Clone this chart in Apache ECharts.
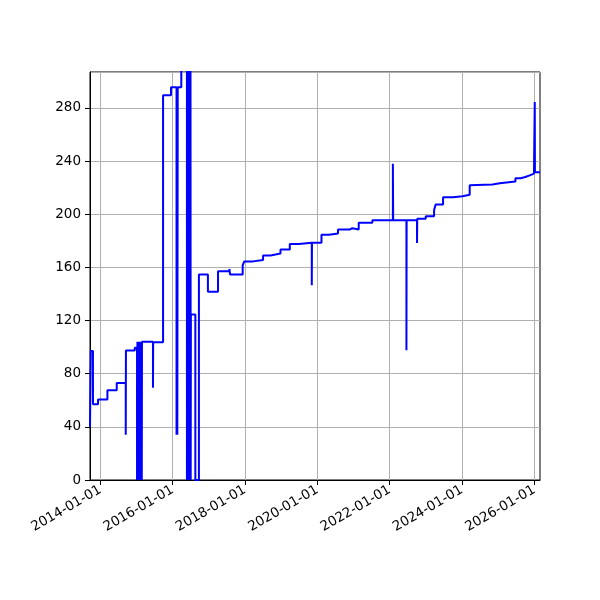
<!DOCTYPE html>
<html>
<head>
<meta charset="utf-8">
<script src="https://cdn.jsdelivr.net/npm/echarts@6/dist/echarts.min.js"></script>
<style>html,body{margin:0;padding:0;background:#fff}#c{width:600px;height:600px}</style>
</head>
<body>
<div id="c"></div>
<script>
var dates = [
 '2013-09-18','2013-09-26','2013-10-18','2013-12-08','2014-03-13','2014-06-15','2014-09-14','2014-09-16','2014-12-14',
 '2015-01-06','2015-01-10','2015-01-14','2015-01-18','2015-01-22','2015-01-26','2015-01-30','2015-02-03','2015-02-07','2015-02-11','2015-02-15','2015-02-19','2015-02-23','2015-02-25',
 '2015-06-16','2015-06-18','2015-09-26','2015-12-15',
 '2016-02-09','2016-02-13','2016-02-17','2016-02-21','2016-03-28',
 '2016-05-24','2016-05-28','2016-06-01','2016-06-05','2016-06-09','2016-06-13','2016-06-17','2016-06-21','2016-06-25','2016-06-29','2016-07-01',
 '2016-07-03','2016-08-17','2016-09-22','2016-12-22','2017-04-03','2017-07-27','2017-08-03','2017-12-08','2017-12-24',
 '2018-03-23','2018-07-02','2018-09-15','2018-12-25','2019-03-29','2019-06-28','2019-11-06','2019-11-08',
 '2020-02-12','2020-04-29','2020-07-28','2020-11-23','2020-12-20','2021-02-22','2021-07-10',
 '2022-02-02','2022-02-05','2022-06-19','2022-06-21','2022-10-04','2022-10-06','2022-12-31',
 '2023-03-25','2023-04-10','2023-06-24','2023-10-03','2024-01-06','2024-03-19','2024-04-08','2024-11-04',
 '2025-01-17','2025-06-24','2025-08-15','2025-10-01','2025-11-15','2025-12-28','2026-01-05','2026-01-07','2026-02-27'
];
var values = [
 40,97,57,60.5,67.5,73,34,97.5,99.5,
 0,104,0,104,0,104,0,104,0,104,0,104,0,104,
 69.5,103.7,289.5,295.5,
 34,295.5,34,295.5,330,
 0,330,0,330,0,330,0,330,0,330,0,
 124.5,0,154.6,141.6,157,158.8,154.6,161.5,164.5,
 165.5,169,170.5,173.5,177.5,178.5,146.5,178.5,
 184.5,185.5,188.5,189.5,188.5,193.5,195.5,
 238,195.5,97.7,195.5,178.4,196.5,198.5,
 203,207.3,212.8,213.5,214.6,221.8,222.3,223.3,
 224.6,227.1,228,229.2,230.5,231.5,284.5,231.5,231.5
];
var xTickDates = ['2014-01-01','2016-01-01','2018-01-01','2020-01-01','2022-01-01','2024-01-01','2026-01-01'];
var xRange = ['2013-09-18','2026-02-27'];
var yRange = [0, 307];
var yStep = 40;

var toTs = function(d){ var p = d.split('-'); return Date.UTC(+p[0], +p[1]-1, +p[2]); };
var fmt = function(v){ var t = new Date(v); var m = t.getUTCMonth()+1, dd = t.getUTCDate();
  return t.getUTCFullYear() + '-' + (m<10?'0':'') + m + '-' + (dd<10?'0':'') + dd; };
var tickTs = xTickDates.map(toTs);
var seriesData = dates.map(function(d, i){ return [toTs(d), values[i]]; });

var chart = echarts.init(document.getElementById('c'), null, {renderer: 'canvas'});
var font = 'DejaVu Sans';
chart.setOption({
  animation: false,
  backgroundColor: '#fff',
  grid: {left: 90, right: 60, top: 72, bottom: 120, show: true, borderColor: '#000', borderWidth: 1, backgroundColor: 'transparent'},
  xAxis: {
    type: 'value',
    min: toTs(xRange[0]),
    max: toTs(xRange[1]),
    axisLine: {show: true, onZero: false, lineStyle: {color: '#000', width: 1}},
    axisTick: {show: true, inside: false, length: 5, lineStyle: {color: '#000', width: 1}, customValues: tickTs},
    axisLabel: {
      customValues: tickTs,
      rotate: 30, margin: 9, color: '#000', fontSize: 13.5, fontFamily: font,
      formatter: fmt
    },
    splitLine: {show: true, lineStyle: {color: '#b0b0b0', width: 1}}
  },
  yAxis: {
    type: 'value',
    min: yRange[0], max: yRange[1], interval: yStep,
    axisLine: {show: true, lineStyle: {color: '#000', width: 1}},
    axisTick: {show: true, inside: false, length: 5, lineStyle: {color: '#000', width: 1}},
    axisLabel: {margin: 9, color: '#000', fontSize: 13.5, fontFamily: font, showMaxLabel: false},
    splitLine: {show: true, lineStyle: {color: '#b0b0b0', width: 1}}
  },
  series: [{
    type: 'line',
    data: seriesData,
    step: 'end',
    showSymbol: false,
    symbol: 'none',
    clip: true,
    lineStyle: {color: '#0000ff', width: 2},
    itemStyle: {color: '#0000ff'}
  }]
});
</script>
</body>
</html>
